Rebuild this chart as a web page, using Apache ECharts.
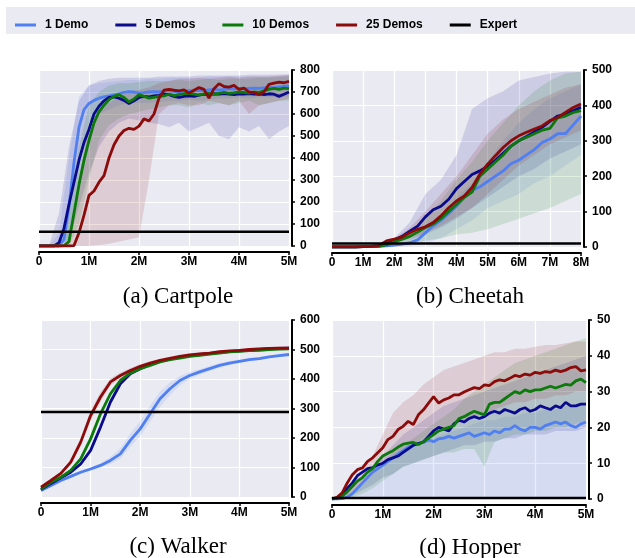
<!DOCTYPE html>
<html>
<head>
<meta charset="utf-8">
<script src="https://cdn.jsdelivr.net/npm/echarts@6/dist/echarts.min.js"></script>
<style>
  html, body { margin: 0; padding: 0; background: #fff; }
  #chart { width: 635px; height: 558px; }
</style>
</head>
<body>
<div id="chart"></div>
<script>
var seriesNames = ['1 Demo', '5 Demos', '10 Demos', '25 Demos'];
var seriesColors = ['#4f7ff0', '#0a0a8c', '#0b7a0b', '#8b0a0a'];
var xTicks5 = ['0', '1M', '2M', '3M', '4M', '5M'];
var xTicks8 = ['0', '1M', '2M', '3M', '4M', '5M', '6M', '7M', '8M'];
var captions = ['(a) Cartpole', '(b) Cheetah', '(c) Walker', '(d) Hopper'];
var expertScores = [65, 10, 288, 0.3];

// sample positions (millions of steps)
var x01 = [0,0.1,0.2,0.3,0.4,0.5,0.6,0.7,0.8,0.9,1,1.1,1.2,1.3,1.4,1.5,1.6,1.7,1.8,1.9,2,2.1,2.2,2.3,2.4,2.5,2.6,2.7,2.8,2.9,3,3.1,3.2,3.3,3.4,3.5,3.6,3.7,3.8,3.9,4,4.1,4.2,4.3,4.4,4.5,4.6,4.7,4.8,4.9,5];
var x02 = [0,0.2,0.4,0.6,0.8,1,1.2,1.4,1.6,1.8,2,2.2,2.4,2.6,2.8,3,3.2,3.4,3.6,3.8,4,4.2,4.4,4.6,4.8,5];
var x025 = [0,0.25,0.5,0.75,1,1.25,1.5,1.75,2,2.25,2.5,2.75,3,3.25,3.5,3.75,4,4.25,4.5,4.75,5,5.25,5.5,5.75,6,6.25,6.5,6.75,7,7.25,7.5,7.75,8];
var x05 = [0,0.5,1,1.5,2,2.5,3,3.5,4,4.5,5,5.5,6,6.5,7,7.5,8];

// (a) Cartpole
var cart1 = [0,0,0,0,0,30,180,380,540,620,648,662,672,678,682,688,692,698,702,700,695,697,700,702,700,703,706,703,700,704,706,705,708,706,710,712,709,712,715,713,716,714,716,718,716,719,721,719,722,725,728];
var cart5 = [0,0,0,0,15,80,190,290,390,470,530,600,635,660,675,678,672,662,648,660,675,680,678,682,685,690,688,680,675,680,682,680,686,690,688,692,690,693,690,688,692,690,693,690,692,688,692,690,680,690,700];
var cart10 = [0,0,0,0,0,2,20,150,280,390,480,560,610,640,665,680,688,675,655,668,688,680,672,676,680,682,690,684,688,692,694,690,686,692,695,690,694,698,694,696,700,698,695,700,698,705,712,716,712,718,715];
var cart25 = [0,0,0,0,0,0,0,2,60,140,230,250,290,320,400,460,500,525,535,530,545,578,568,600,672,708,712,708,705,710,695,708,720,712,672,715,738,725,722,730,712,718,700,698,688,700,735,740,745,742,748];
var cart1Lo = [0,0,0,20,350,560,600,620,640,650,650,650,655,660,660,665,660,665,670,670,675,670,675,675,680,680];
var cart1Hi = [0,0,60,400,680,730,740,745,750,755,755,760,760,765,765,765,765,770,770,770,770,770,770,770,770,775];
var cart5Lo = [0,0,0,30,180,330,450,520,560,580,570,560,555,540,560,520,540,560,500,485,540,520,545,485,520,545];
var cart5Hi = [0,0,150,450,660,730,750,760,765,765,765,765,770,770,770,770,775,775,775,775,775,778,778,778,780,780];
var cart10Lo = [0,0,0,0,100,300,480,550,580,600,610,620,630,640,640,630,650,640,650,640,650,660,640,650,660,660];
var cart10Hi = [0,0,0,200,450,640,700,730,740,740,745,750,750,750,755,750,755,760,755,760,760,760,765,765,768,770];
var cart25Lo = [0,0,0,0,0,0,5,10,20,30,40,300,600,640,650,640,640,660,650,640,660,600,640,650,660,670];
var cart25Hi = [0,0,0,0,300,550,620,650,680,700,710,720,740,750,760,760,765,760,765,770,765,770,770,770,775,780];

// (b) Cheetah
var cheetah1 = [0,0,0,0,1,1,2,3,5,8,12,20,40,60,75,95,115,140,160,170,185,200,215,235,245,260,275,295,305,320,320,345,370];
var cheetah5 = [0,0,0,0,1,2,3,8,20,30,45,59,85,105,115,135,165,185,205,215,228,245,265,285,300,312,325,338,355,370,375,385,395];
var cheetah10 = [0,0,0,0,1,1,2,6,15,22,30,42,55,65,80,100,120,140,155,200,220,240,260,285,300,310,320,330,335,365,370,380,385];
var cheetah25 = [0,0,0,0,1,2,4,17,22,28,40,50,57,69,88,111,130,144,168,206,234,258,281,300,314,324,333,342,357,366,380,394,404];
var cheetah1Lo = [0,0,0,0,0,3,10,25,50,75,110,130,150,180,200,230,260];
var cheetah1Hi = [0,0,0,2,8,20,50,90,140,180,240,300,350,390,420,440,460];
var cheetah5Lo = [0,0,0,0,8,20,35,55,80,110,140,170,200,220,250,270,290];
var cheetah5Hi = [0,0,0,5,25,70,150,190,260,390,420,440,470,480,490,495,495];
var cheetah10Lo = [0,0,0,0,3,10,18,25,35,40,50,65,80,95,110,130,150];
var cheetah10Hi = [0,0,0,3,15,45,80,130,190,240,300,350,400,440,470,490,495];
var cheetah25Lo = [0,0,0,0,10,25,40,60,85,110,150,190,230,260,290,310,330];
var cheetah25Hi = [0,0,0,4,22,55,100,150,200,260,320,360,390,410,430,450,460];

// (c) Walker
var walker1 = [22,39,56,70,84,95,107,124,146,192,231,282,333,367,395,412,424,435,446,454,460,466,469,475,479,483];
var walker5 = [25,46,65,84,112,158,237,322,384,418,435,449,460,467,474,479,483,486,490,493,495,497,500,502,504,505];
var walker10 = [27,50,67,90,129,197,282,350,395,420,435,446,458,466,471,477,480,484,488,492,494,496,497,500,501,502];
var walker25 = [33,56,80,118,186,276,339,390,412,429,443,454,463,470,477,482,485,488,493,495,497,500,502,504,505,505];
var walker1Lo = [18,34,51,65,79,90,100,112,130,170,205,255,305,345,378,400,414,426,438,447,454,460,464,470,474,478];
var walker1Hi = [26,44,61,75,89,101,114,136,165,215,258,310,358,388,410,424,434,444,454,461,466,472,475,480,484,488];
var walker5Lo = [21,42,61,80,106,150,227,312,376,412,430,445,456,463,470,475,479,482,486,489,491,493,496,498,500,501];
var walker5Hi = [29,50,69,88,118,166,247,332,392,424,440,453,464,471,478,483,487,490,494,497,499,501,504,506,508,509];
var walker10Lo = [23,46,63,85,122,187,270,340,387,413,429,441,453,461,467,473,476,480,484,488,490,492,493,496,497,498];
var walker10Hi = [31,54,71,95,136,207,294,360,403,427,441,451,463,471,475,481,484,488,492,496,498,500,501,504,505,506];
var walker25Lo = [28,50,74,108,172,258,322,378,402,421,436,448,457,465,472,477,481,484,489,491,493,496,498,500,501,501];
var walker25Hi = [38,62,86,128,200,292,356,402,422,437,450,460,469,476,482,487,490,493,497,499,501,504,506,508,510,511];

// (d) Hopper
var hopper1 = [0,0,0.1,0.5,1.5,3,4.5,6,7.5,8.5,9.5,10.5,11.5,12.5,13.5,14.5,15,15.5,15.8,16.5,16,16.8,17,17.5,17,17.5,18,18.5,17.5,18,18.5,18,19,18.5,19.5,19.5,20.5,19.5,19,20,20,19.5,20.5,21,21.5,21,21.5,20.5,20,21,21.5];
var hopper5 = [0,0.3,1.2,3,4.5,6.5,7.5,8.5,8.8,9.5,10,11,11.5,12,13,14,15,15.5,16,17.5,19,20,19.5,19,21,22,21.5,22.5,23,22.5,23,24,24.5,24,25,24.5,24,25,25.5,24.5,25,26,25.5,25,26,25.5,27,26,26,26.5,26.5];
var hopper10 = [0,0.2,0.8,2,3.5,5,6,7.5,8.5,10.5,12,12.8,13.5,14.5,15.3,15.6,15.8,15.2,16,17,18,19,19.5,20,20.5,22.5,23,23.8,24.5,24,23.5,26.5,27,27,28,29,30,29.5,30.5,30,30.5,30.5,31,31.5,31,31.5,32,31.8,33,33.5,32.5];
var hopper25 = [0,0.5,1.7,4.5,6.8,8.2,8.7,10.5,11.5,12.9,14.3,16.6,17.5,19.4,20.3,21.7,20.8,23.5,24.9,26.8,28.6,26.8,27.7,28.2,29.1,29.1,29.9,30.5,31.1,30.8,31.9,31.7,32.8,33.3,33,33.7,34.5,34.2,34.9,34.6,35.4,35.1,35.6,35.4,36,35.6,36,36.7,37,35.8,36.1];
var hopper1Lo = [0,0,0,0,0,0,0,0,0,0,0,0,0,0,0,0,0,0,0,0,0,0,0,0,0,0];
var hopper1Hi = [0,0.3,1.5,4,7,10,12,14,15,16,17,18,19,20,21,22,22,23,23,24,24,25,25,26,26,26];
var hopper5Lo = [0,0.2,1,2.5,4,6,7,9,10,11,12,13,14,15,15,16,16,17,17,18,18,18,19,19,19,20];
var hopper5Hi = [0,1,3,6,9,12,15,18,20,22,24,26,27,28,29,30,31,32,33,34,35,36,37,38,39,40];
var hopper10Lo = [0,0,0.5,1.5,3,5,7,9,10,11,12,13,13,14,14,9,16,17,18,18,19,19,20,20,21,22];
var hopper10Hi = [0,1,2,4,7,10,13,15,17,19,21,23,25,28,30,32,34,36,38,39,40,41,42,43,44,45];
var hopper25Lo = [0,0.5,2,4,7,9,11,13,15,17,19,20,21,22,23,24,25,26,27,27,28,28,29,29,30,30];
var hopper25Hi = [0,1.5,4,8,12,18,24,27,29,32,34,36,37,38,39,40,41,41,42,42,42.5,43,43,43.5,44,44];

var FONT = '"Liberation Sans", Arial, sans-serif';

var panels = [
    {x: x01, xb: x02, lines: [cart1, cart5, cart10, cart25], lo: [cart1Lo, cart5Lo, cart10Lo, cart25Lo], hi: [cart1Hi, cart5Hi, cart10Hi, cart25Hi], xmax: 5, ymax: 800, yint: 100, ticks: xTicks5},
    {x: x025, xb: x05, lines: [cheetah1, cheetah5, cheetah10, cheetah25], lo: [cheetah1Lo, cheetah5Lo, cheetah10Lo, cheetah25Lo], hi: [cheetah1Hi, cheetah5Hi, cheetah10Hi, cheetah25Hi], xmax: 8, ymax: 500, yint: 100, ticks: xTicks8},
    {x: x02, xb: x02, lines: [walker1, walker5, walker10, walker25], lo: [walker1Lo, walker5Lo, walker10Lo, walker25Lo], hi: [walker1Hi, walker5Hi, walker10Hi, walker25Hi], xmax: 5, ymax: 600, yint: 100, ticks: xTicks5},
    {x: x01, xb: x02, lines: [hopper1, hopper5, hopper10, hopper25], lo: [hopper1Lo, hopper5Lo, hopper10Lo, hopper25Lo], hi: [hopper1Hi, hopper5Hi, hopper10Hi, hopper25Hi], xmax: 5, ymax: 50, yint: 10, ticks: xTicks5}
];

var gridBoxes = [
    {left: 39, top: 70, width: 250, height: 176},
    {left: 332, top: 70, width: 249, height: 177},
    {left: 41, top: 320, width: 248, height: 177},
    {left: 332, top: 320, width: 254, height: 179}
];
var captionPos = [[178, 297], [470, 297], [178, 547], [470, 548]];

function pairs(xs, ys) {
    return xs.map(function (x, i) { return [x, ys[i]]; });
}

function bandSeries(gi, xs, lo, hi, color) {
    return {
        type: 'custom',
        xAxisIndex: gi,
        yAxisIndex: gi,
        silent: true,
        z: 1,
        data: xs.map(function (x, i) { return [x, lo[i], hi[i]]; }),
        encode: {x: 0, y: [1, 2]},
        renderItem: function (params, api) {
            if (params.dataIndex !== 0) {
                return;
            }
            var top = [];
            var bottom = [];
            for (var i = 0; i < xs.length; i++) {
                top.push(api.coord([xs[i], hi[i]]));
                bottom.push(api.coord([xs[i], lo[i]]));
            }
            return {
                type: 'polygon',
                shape: {points: top.concat(bottom.reverse())},
                style: {fill: color, opacity: 0.13}
            };
        }
    };
}

var grid = [], xAxis = [], yAxis = [], series = [], graphic = [];

graphic.push({type: 'rect', z: -10, shape: {x: 6, y: 7, width: 629, height: 27}, style: {fill: '#eaeaf2'}});

panels.forEach(function (p, gi) {
    var box = gridBoxes[gi];
    grid.push({
        left: box.left, top: box.top, width: box.width, height: box.height,
        show: true, backgroundColor: '#eaeaf2', borderWidth: 0,
        containLabel: false, outerBoundsMode: 'none'
    });
    xAxis.push({
        type: 'value', gridIndex: gi, min: 0, max: p.xmax, interval: 1, offset: 6,
        axisLine: {show: true, onZero: false, lineStyle: {color: '#000', width: 2}},
        axisTick: {show: true, length: 3, lineStyle: {color: '#000', width: 1.5}},
        axisLabel: {
            color: '#000', fontFamily: FONT, fontWeight: 'bold', fontSize: 12, margin: 4,
            formatter: (function (labels) { return function (v) { return labels[Math.round(v)]; }; })(p.ticks)
        },
        splitLine: {show: true, lineStyle: {color: '#ffffff', width: 1.2}}
    });
    yAxis.push({
        type: 'value', gridIndex: gi, position: 'right', min: 0, max: p.ymax, interval: p.yint, offset: 3,
        axisLine: {show: true, onZero: false, lineStyle: {color: '#000', width: 2}},
        axisTick: {show: true, length: 3, lineStyle: {color: '#000', width: 1.5}},
        axisLabel: {color: '#000', fontFamily: FONT, fontWeight: 'bold', fontSize: 12, margin: 8},
        splitLine: {show: true, lineStyle: {color: '#ffffff', width: 1.2}}
    });

    for (var k = 0; k < 4; k++) {
        series.push(bandSeries(gi, p.xb, p.lo[k], p.hi[k], seriesColors[k]));
    }
    for (var k2 = 0; k2 < 4; k2++) {
        series.push({
            name: seriesNames[k2], type: 'line', xAxisIndex: gi, yAxisIndex: gi,
            data: pairs(p.x, p.lines[k2]), showSymbol: false, symbol: 'none',
            color: seriesColors[k2], z: 2, silent: true,
            itemStyle: {color: seriesColors[k2]},
            lineStyle: {color: seriesColors[k2], width: 2.8}
        });
    }
    series.push({
        name: 'Expert', type: 'line', xAxisIndex: gi, yAxisIndex: gi,
        data: [[0, expertScores[gi]], [p.xmax, expertScores[gi]]],
        showSymbol: false, symbol: 'none', color: '#000', z: 3, silent: true,
        itemStyle: {color: '#000'},
        lineStyle: {color: '#000', width: 2.5}
    });

    graphic.push({
        type: 'text', x: captionPos[gi][0], y: captionPos[gi][1], silent: true,
        style: {
            text: captions[gi], fill: '#000', align: 'center', verticalAlign: 'middle',
            font: '23px "Liberation Serif", "Times New Roman", serif'
        }
    });
});

var chart = echarts.init(document.getElementById('chart'), null, {renderer: 'canvas'});
chart.setOption({
    animation: false,
    backgroundColor: '#ffffff',
    textStyle: {fontFamily: FONT},
    legend: {
        left: 10, top: 14, itemWidth: 21, itemHeight: 3, itemGap: 27, icon: 'rect',
        data: seriesNames.concat(['Expert']),
        selectedMode: false,
        textStyle: {color: '#000', fontFamily: FONT, fontWeight: 'bold', fontSize: 12, padding: [0, 0, 0, 4]}
    },
    grid: grid,
    xAxis: xAxis,
    yAxis: yAxis,
    graphic: graphic,
    series: series
});
</script>
</body>
</html>
